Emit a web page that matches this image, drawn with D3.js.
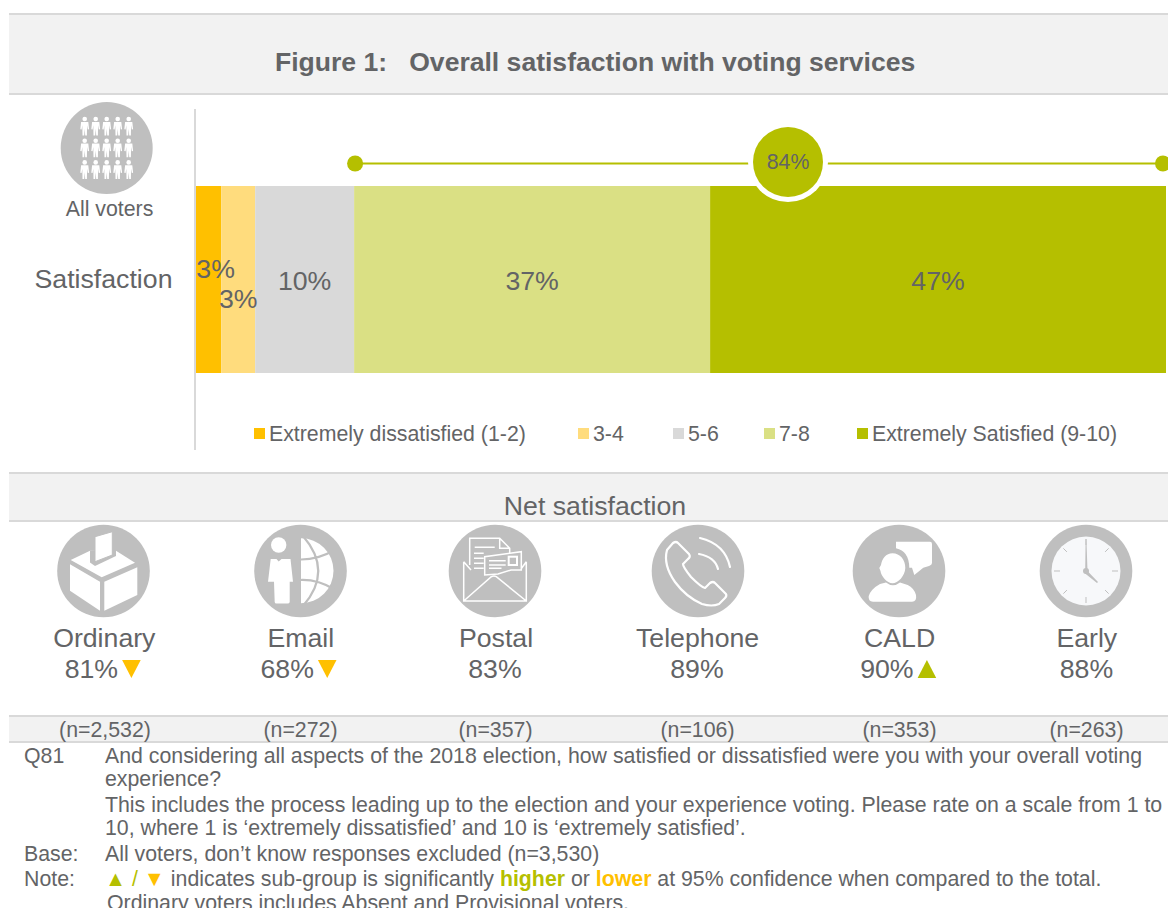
<!DOCTYPE html>
<html><head><meta charset="utf-8">
<script src="https://cdnjs.cloudflare.com/ajax/libs/d3/7.8.5/d3.min.js"></script>
<style>html,body{margin:0;padding:0;background:#fff}svg{display:block}text{font-family:"Liberation Sans",Arial,sans-serif;fill:#636466}</style>
</head><body><div id="c"></div>
<script>
const segments=["Extremely dissatisfied (1-2)","3-4","5-6","7-8","Extremely Satisfied (9-10)"];
const segmentValues=[2.6,3.5,10.2,36.7,47.0];
const segmentLabels=["3%","3%","10%","37%","47%"];
const segmentColors=["#ffc000","#ffdc7d","#d9d9d9","#dae084","#b5bf00"];
const netLabel="84%";
const groups=["Ordinary","Email","Postal","Telephone","CALD","Early"];
const groupValues=[81,68,83,89,90,88];
const groupN=["2,532","272","357","106","353","263"];
const groupSig=["down","down",null,null,"up",null];

const W=1168,H=908,GREEN="#b5bf00",AMBER="#ffc000",ICON="#bfbfbf",BAND="#f2f2f2",RULE="#d9d9d9";
const FS=26.7,FM=21.3;
const svg=d3.select("#c").append("svg").attr("width",W).attr("height",H);

function band(y0,y1){
  svg.append("rect").attr("x",9).attr("y",y0).attr("width",W-9).attr("height",y1-y0).attr("fill",BAND);
  [y0,y1].forEach(y=>svg.append("line").attr("x1",9).attr("x2",W).attr("y1",y).attr("y2",y).attr("stroke",RULE).attr("stroke-width",2));
}
band(14,94);band(473,521);band(716,742);

svg.append("text").attr("x",275).attr("y",71).attr("font-size",26.55).attr("font-weight","bold").text("Figure 1:\u00a0\u00a0 Overall satisfaction with voting services");
svg.append("text").attr("x",595).attr("y",515).attr("text-anchor","middle").attr("font-size",FS).text("Net satisfaction");

// stacked bar
const x=d3.scaleLinear().domain([0,100]).range([196,1166]);
const y=d3.scaleBand().domain(["Satisfaction"]).range([186,373]);
const stack=d3.stack().keys(segments.map((_,i)=>i))([Object.assign({},segmentValues)]);
svg.selectAll("rect.seg").data(stack).join("rect").attr("class","seg")
  .attr("x",d=>x(d[0][0])).attr("width",d=>x(d[0][1])-x(d[0][0]))
  .attr("y",y("Satisfaction")).attr("height",y.bandwidth()).attr("fill",(d,i)=>segmentColors[i]);
svg.append("line").attr("x1",195).attr("x2",195).attr("y1",109).attr("y2",450).attr("stroke",RULE).attr("stroke-width",2);
const labelY=[278,308,290,290,290];
const labelDx=[7,0,0,0,0];
svg.selectAll("text.seg").data(stack).join("text").attr("class","seg")
  .attr("x",(d,i)=>(x(d[0][0])+x(d[0][1]))/2+labelDx[i])
  .attr("y",(d,i)=>labelY[i]).attr("text-anchor","middle").attr("font-size",FS)
  .text((d,i)=>segmentLabels[i]);

// bracket
const by=163.5;
const bx0=x(segmentValues[0]+segmentValues[1]+segmentValues[2])+1;
svg.append("line").attr("x1",bx0).attr("x2",1163).attr("y1",by).attr("y2",by).attr("stroke",GREEN).attr("stroke-width",2);
[bx0,1163].forEach(cx=>svg.append("circle").attr("cx",cx).attr("cy",by).attr("r",8).attr("fill",GREEN));
svg.append("circle").attr("cx",788).attr("cy",162).attr("r",40).attr("fill","#fff");
svg.append("circle").attr("cx",788).attr("cy",162).attr("r",35).attr("fill",GREEN);
svg.append("text").attr("x",788).attr("y",169).attr("text-anchor","middle").attr("font-size",FM).text(netLabel);

// all-voters icon
const av=svg.append("g").attr("transform","translate(106.7,148)");
av.append("circle").attr("r",46).attr("fill",ICON);
d3.range(3).forEach(r=>d3.range(5).forEach(c=>{
  const g=av.append("g").attr("transform",`translate(${(c-2)*11},${(r-1)*21.7})`).attr("fill","#fff");
  g.append("circle").attr("cy",-7.3).attr("r",2.3);
  g.append("path").attr("d","M-3.6,-4.4 L3.6,-4.4 L4.4,3 L3.1,3.2 L2.4,-1 L2.2,9.2 L0.5,9.2 L0,2.5 L-0.5,9.2 L-2.2,9.2 L-2.4,-1 L-3.1,3.2 L-4.4,3Z");
}));
svg.append("text").attr("x",109.5).attr("y",216).attr("text-anchor","middle").attr("font-size",FM).text("All voters");
svg.append("text").attr("x",103.5).attr("y",288).attr("text-anchor","middle").attr("font-size",FS).text("Satisfaction");

// legend
const legendX=[254,578,673,764,857];
segments.forEach((s,i)=>{
  svg.append("rect").attr("x",legendX[i]).attr("y",428).attr("width",11).attr("height",11).attr("fill",segmentColors[i]);
  svg.append("text").attr("x",legendX[i]+15).attr("y",441).attr("font-size",FM).text(s);
});

// group icons
const cx=[103.5,300.5,495,698,899,1086];
const nameX=[104.3,300.8,496,697.6,899.6,1086.8];
const valueX=[102.7,298.5,495,697,898.2,1086.5];
const nX=[105,300.5,495.5,697.5,899.5,1086.5];
const ICONS={
 Ordinary(g){
  g.append("path").attr("fill","#fff").attr("d","M-33.5,-6.7 L-3.5,10.7 L-3.5,39.7 L-33.5,19.7Z M0.8,10.7 L33.8,-3.7 L33.8,24 L0.8,39.7Z M-32.8,-11 L-13.5,-20.3 L12.5,-20.3 L31.5,-8.3 L-1.8,6.3Z");
  g.append("path").attr("fill",ICON).attr("d","M-13.5,-20.5 L-13.5,-8.5 L-8.5,-5 L12.5,-15 L12.5,-21 Z");
  g.append("path").attr("fill","#fff").attr("stroke",ICON).attr("stroke-width",1).attr("d","M-8.5,-34.3 L8.8,-39.3 L8.8,-16 L-8.5,-9.3Z");
 },
 Email(g){
  g.append("circle").attr("cx",-21.8).attr("cy",-26).attr("r",7.7).attr("fill","#fff");
  g.append("path").attr("fill","#fff").attr("d","M-29.8,-12 L-24,-12 L-21.8,-9.5 L-19,-12 L-10,-12 L-7.5,10.7 L-10.8,10.7 L-10.8,31 Q-11,32.5 -13,32.5 L-24,32.5 Q-25.8,32.5 -25.8,31 L-26.5,10.7 L-32.5,10.7Z");
  g.append("path").attr("fill","#fff").attr("d","M0.5,-32.7 A32.5,32.5 0 0 1 0.5,32.3Z");
  g.append("path").attr("fill","none").attr("stroke",ICON).attr("stroke-width",2.2).attr("d","M2.5,-35 Q33,0 2.5,35 M-1,-11.5 Q17,-11 34,-21 M-1,9 Q17,8 34,18.5");
 },
 Postal(g){
  const s=g.append("g").attr("fill","none").attr("stroke","#fff").attr("stroke-width",1.5);
  s.append("path").attr("d","M-31.3,-9.3 V30 H31.3 V-9.3 M-31.3,30 L-3.7,5.7 Q-1,4.5 1.3,5.7 L31.3,30 M-31.3,-9.3 L-24,-1 M31.3,-9.3 L26,-2");
  s.append("path").attr("d","M-25.3,-6 V-32.7 H4.7 L14.7,-22.7 V-18 M4.7,-32.7 V-22.7 H14.7");
  s.append("path").attr("d","M-20.3,-23.7 H-0.3 M-21,-17.7 H-11.3 M-21,-12.7 H-11.3 M-21,-7.7 H-11.3 M-21,-2.7 H-11.3");
  s.append("path").attr("fill",ICON).attr("d","M-10.3,4 V-14.3 L26.3,-19.3 V-1 L16,-1 L3,3Z");
  s.append("path").attr("d","M-6,-10.3 H10.7 M-6,-6 H10.7 M-6,-2.7 H6.5");
  s.append("rect").attr("x",13.7).attr("y",-14.3).attr("width",8.3).attr("height",8.3).attr("stroke-width",2);
 },
 Telephone(g){
  g.append("path").attr("fill","none").attr("stroke","#fff").attr("stroke-width",2.2).attr("stroke-linejoin","round")
   .attr("d","M-31,-21 L-25,-28 Q-22,-30 -20,-28 L-9,-17 Q-7,-14 -10,-12 L-15,-7 Q-15,-4 -7,6 Q3,16 7,17 L12,12 Q15,10 17,12 L28,23 Q29,25 27,27 L21,33 Q14,36 4,33 Q-12,26 -23,11 Q-35,-6 -31,-21Z");
  g.append("path").attr("fill","none").attr("stroke","#fff").attr("stroke-width",2.2).attr("stroke-linecap","round").attr("d","M1,-17 Q17,-14 20,-2 M2,-33 Q27,-27 32,-4");
 },
 CALD(g){
  g.append("path").attr("fill","#fff").attr("d","M-3,-29.3 H31 Q33,-29.3 33,-27 V-8 Q33,-6 30,-5 L24.3,-3.3 L15.3,4 L13,-3.3 L10.3,-3.3 Q10,-20 -3,-22.7Z");
  g.append("path").attr("fill","#fff").attr("d","M-6.5,-17.7 C1,-17.7 6.5,-11 6.3,-3 C6,5 -1,12.3 -6.5,12.3 C-12,12.3 -18,5 -18.5,0 L-19.7,-3 L-18,-6 C-17,-12 -13,-17.7 -6.5,-17.7Z");
  g.append("path").attr("fill","#fff").attr("d","M-19,13 L-13,11.5 Q-6,17 1,11.5 L8.7,14 Q15,17 17,24 Q18,30.7 13,30.7 H-26 Q-31,30.7 -30.3,25 Q-28,18 -19,13Z");
 },
 Early(g){
  g.append("circle").attr("r",34.5).attr("fill","#f7f8fa");
  d3.range(8).forEach(i=>{
    const a=i*Math.PI/4,r0=i%2?27:26,r1=32;
    g.append("line").attr("x1",r0*Math.sin(a)).attr("y1",-r0*Math.cos(a)).attr("x2",r1*Math.sin(a)).attr("y2",-r1*Math.cos(a)).attr("stroke",ICON).attr("stroke-width",1);
  });
  g.append("path").attr("fill",ICON).attr("d","M-0.8,0 L-0.4,-32 L0.4,-32 L1.5,0Z M0,-1.5 L12,11 L11,12 L-1.5,2Z");
  g.append("circle").attr("r",3).attr("fill",ICON);
 }
};
groups.forEach((name,i)=>{
  const g=svg.append("g").attr("transform",`translate(${cx[i]},571)`);
  g.append("circle").attr("r",46.3).attr("fill",ICON);
  ICONS[name](g);
  svg.append("text").attr("x",nameX[i]).attr("y",647).attr("text-anchor","middle").attr("font-size",FS).text(name);
  const t=svg.append("text").attr("y",678).attr("font-size",FS).text(groupValues[i]+"%");
  const w=t.node().getComputedTextLength(),sig=groupSig[i],tw=18.6,gap=4;
  const total=w+(sig?gap+tw:0),left=valueX[i]-total/2;
  t.attr("x",left);
  if(sig){
    const tx=left+w+gap,p=d3.path();
    if(sig==="down"){p.moveTo(tx,660);p.lineTo(tx+tw,660);p.lineTo(tx+tw/2,678);}
    else{p.moveTo(tx,678);p.lineTo(tx+tw,678);p.lineTo(tx+tw/2,660);}
    p.closePath();
    svg.append("path").attr("d",p.toString()).attr("fill",sig==="up"?GREEN:AMBER);
  }
  svg.append("text").attr("x",nX[i]).attr("y",737).attr("text-anchor","middle").attr("font-size",FM).text(`(n=${groupN[i]})`);
});

// notes
const notes=[
 [24,105,763,"Q81","And considering all aspects of the 2018 election, how satisfied or dissatisfied were you with your overall voting"],
 [null,105,786,"","experience?"],
 [null,105,812,"","This includes the process leading up to the election and your experience voting. Please rate on a scale from 1 to"],
 [null,105,835,"","10, where 1 is \u2018extremely dissatisfied\u2019 and 10 is \u2018extremely satisfied\u2019."],
 [24,105,861,"Base:","All voters, don\u2019t know responses excluded (n=3,530)"]
];
notes.forEach(n=>{
  if(n[0]!==null)svg.append("text").attr("x",n[0]).attr("y",n[2]).attr("font-size",FM).text(n[3]);
  svg.append("text").attr("x",n[1]).attr("y",n[2]).attr("font-size",FM).text(n[4]);
});
svg.append("text").attr("x",24).attr("y",886).attr("font-size",FM).text("Note:");
const nt=svg.append("text").attr("x",105).attr("y",886).attr("font-size",FM);
nt.append("tspan").style("fill",GREEN).text("\u25B2 / ");
nt.append("tspan").style("fill",AMBER).text("\u25BC");
nt.append("tspan").text(" indicates sub-group is significantly ");
nt.append("tspan").style("fill",GREEN).attr("font-weight","bold").text("higher");
nt.append("tspan").text(" or ");
nt.append("tspan").style("fill",AMBER).attr("font-weight","bold").text("lower");
nt.append("tspan").text(" at 95% confidence when compared to the total.");
svg.append("text").attr("x",107).attr("y",910).attr("font-size",FM).text("Ordinary voters includes Absent and Provisional voters.");
</script></body></html>
